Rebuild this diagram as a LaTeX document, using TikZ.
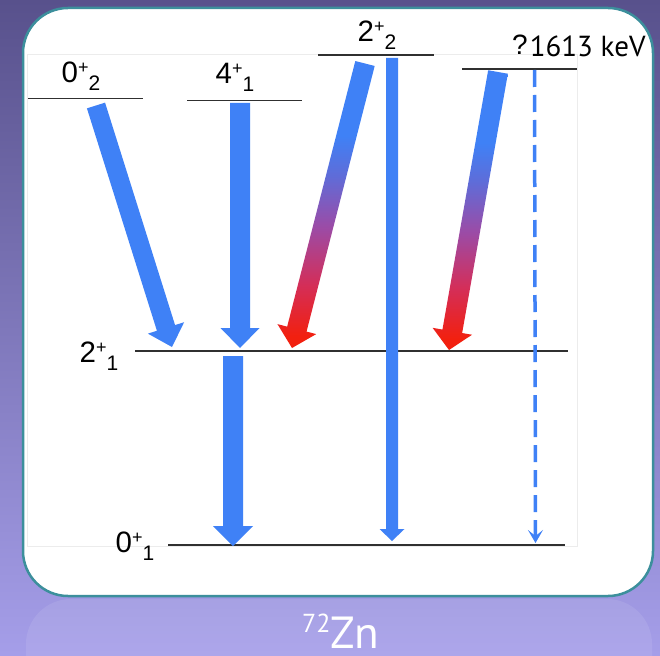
\documentclass[tikz,border=0pt]{standalone}
\usepackage{fontspec}
\setmainfont{Liberation Sans}
\newfontfamily\gill{PT Sans}
\usetikzlibrary{calc,arrows.meta}
\definecolor{bgtop}{HTML}{58518C}
\definecolor{bgbot}{HTML}{A59EE9}
\definecolor{framec}{HTML}{3C8F9C}
\definecolor{arrblue}{HTML}{3F81F6}
\definecolor{arrred}{HTML}{F2200F}
\definecolor{arrpurple}{HTML}{9C4BA6}
\definecolor{arrrp}{HTML}{D42E58}
\definecolor{arrbp}{HTML}{5F6CD8}
\definecolor{lvlc}{HTML}{303030}
\pgfdeclareverticalshading{bluered}{100bp}{color(0bp)=(arrred); color(27bp)=(arrred); color(36bp)=(arrrp); color(46bp)=(arrpurple); color(55bp)=(arrbp); color(62bp)=(arrblue); color(100bp)=(arrblue)}
\newcommand{\fatarr}[6]{%
  \coordinate (fb) at ($(#2)!#5!(#1)$);
  \path[#6] ($(#1)!#3!90:(#2)$) -- ($(fb)!#3!90:(#2)$) -- ($(fb)!#4!90:(#2)$) -- (#2)
    -- ($(fb)!#4!-90:(#2)$) -- ($(fb)!#3!-90:(#2)$) -- ($(#1)!#3!-90:(#2)$) -- cycle;}
\newcommand{\lab}[2]{\fontsize{29.5}{29.5}\selectfont #1\raisebox{9pt}{\fontsize{18}{18}\selectfont +}\raisebox{-8pt}{\fontsize{21}{21}\selectfont #2}}
\tikzset{
  level/.style={draw=lvlc, line width=1.3pt},
  lablbl/.style={anchor=base west, inner sep=0pt, text=black},
  bluearr/.style={fill=arrblue},
  gradarr/.style={shading=bluered},
}
\begin{document}
\begin{tikzpicture}[x=1pt,y=-1pt]
\useasboundingbox (0,0) rectangle (660,655);
% background
\fill[top color=bgtop, bottom color=bgbot] (0,0) rectangle (660,655);
\fill[white, opacity=0.09, rounded corners=45pt] (26,599) rectangle (652,720);
% white panel
\draw[framec, line width=2.5pt, fill=white, rounded corners=45pt] (23,8) rectangle (653,596);
\draw[gray!15, line width=0.8pt] (27,54) rectangle (577,546);
% levels
\draw[level] (28,98.5) coordinate (l02a) -- (143,98.5) coordinate (l02b);
\draw[level] (187,100.5) coordinate (l41a) -- (302,100.5) coordinate (l41b);
\draw[level] (318,55) coordinate (l22a) -- (434,55) coordinate (l22b);
\draw[level] (462,69) coordinate (lqa) -- (577,69) coordinate (lqb);
\draw[level] (135,351) coordinate (l21a) -- (568,351) coordinate (l21b);
\draw[level] (168,545) coordinate (l01a) -- (565,545) coordinate (l01b);
% labels
\node[lablbl] (lab02) at (61.5,83) {\lab{0}{2}};
\node[lablbl] (lab41) at (215.5,84) {\lab{4}{1}};
\node[lablbl] (lab22) at (357.5,42) {\lab{2}{2}};
\node[lablbl] (lab21) at (79.5,362) {\lab{2}{1}};
\node[lablbl] (lab01) at (115.5,552) {\lab{0}{1}};
\node[lablbl] (labq) at (512,57) {\raisebox{2pt}{\fontsize{28}{28}\selectfont ?}\hspace{2pt}{\gill\fontsize{29}{29}\selectfont 1613 keV}};
% arrow end points
\coordinate (s1) at (96,105.5); \coordinate (t1) at (172,347);
\coordinate (s2) at (240,103);  \coordinate (t2) at (240,348);
\coordinate (s3) at (233,356);  \coordinate (t3) at (233,546);
\coordinate (s4) at (365,63.5); \coordinate (t4) at (292,348);
\coordinate (s5) at (392,58);   \coordinate (t5) at (392,541);
\coordinate (s6) at (498,72);   \coordinate (t6) at (449,350);
\coordinate (s7) at (534.5,70); \coordinate (t7) at (535.5,543);
% arrows
\fatarr{s1}{t1}{9.5pt}{19pt}{20pt}{bluearr}
\fatarr{s2}{t2}{10pt}{19.5pt}{20pt}{bluearr}
\fatarr{s3}{t3}{10pt}{20pt}{20pt}{bluearr}
\fatarr{s4}{t4}{10pt}{20pt}{19.5pt}{gradarr}
\fatarr{s5}{t5}{6pt}{12.5pt}{12pt}{bluearr}
\fatarr{s6}{t6}{10pt}{20pt}{19pt}{gradarr}
\draw[arrblue, line width=3.5pt, dash pattern=on 17pt off 8pt,
  -{Stealth[length=13pt,width=15pt,inset=6pt]}] (s7) -- (t7);
% title
\node[anchor=base west, inner sep=0pt, text=white] (title) at (302,648)
  {\gill\raisebox{16pt}{\fontsize{26}{26}\selectfont 72}\fontsize{45}{45}\selectfont Zn};
\end{tikzpicture}
\end{document}
